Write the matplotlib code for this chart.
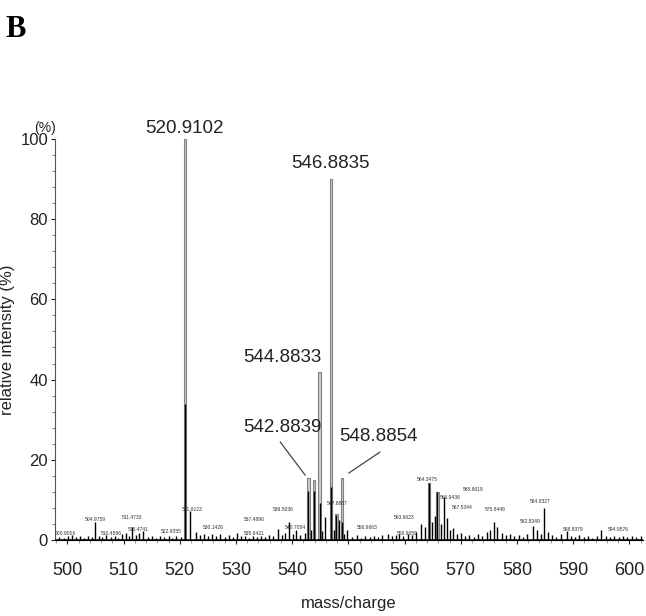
import matplotlib
matplotlib.use('Agg')
import matplotlib.pyplot as plt
from matplotlib.ticker import MultipleLocator

plt.rcParams['font.family'] = ['Liberation Sans', 'DejaVu Sans']

# measured spectrum (black sticks): (m/z, relative intensity %)
black_peaks = [
    (498.6, 0.8), (499.4, 0.6), (500.1, 1.0), (500.9, 1.2), (501.6, 0.7), (502.3, 0.9),
    (503.0, 0.6), (503.7, 1.1), (504.3, 0.8), (504.98, 4.5), (505.6, 1.0), (506.2, 0.7),
    (506.9, 1.3), (507.7, 0.8), (508.4, 1.0), (509.1, 0.6), (509.8, 1.4), (510.46, 1.8),
    (511.0, 0.9), (511.47, 3.2), (512.2, 1.2), (512.8, 1.8), (513.47, 2.2), (514.3, 0.8),
    (515.0, 1.0), (515.8, 0.6), (516.5, 0.9), (517.2, 0.7), (518.0, 1.0), (518.7, 0.6),
    (519.4, 0.9), (520.2, 0.7), (520.91, 34.0), (521.91, 7.2), (522.9, 2.0), (523.6, 1.2),
    (524.3, 1.5), (525.0, 0.9), (525.8, 1.6), (526.5, 1.0), (527.2, 1.4), (528.0, 0.8),
    (528.7, 1.3), (529.4, 0.7), (530.14, 1.8), (530.9, 0.9), (531.6, 1.0), (532.3, 0.6),
    (533.1, 0.9), (533.8, 0.7), (534.5, 1.0), (535.2, 0.8), (535.94, 1.2), (536.6, 0.9),
    (537.49, 2.8), (538.2, 1.2), (538.8, 1.8), (539.5, 4.5), (540.1, 1.5), (540.71, 2.5),
    (541.4, 1.2), (542.2, 1.8), (542.88, 12.3), (543.4, 2.5), (543.88, 12.3), (544.88, 9.2),
    (545.4, 2.2), (545.88, 5.8), (546.88, 13.2), (547.4, 2.5), (547.88, 6.2), (548.3, 5.0),
    (548.88, 4.5), (549.3, 1.5), (549.8, 2.4), (550.7, 0.8), (551.5, 1.2), (552.3, 0.6),
    (553.0, 1.0), (553.8, 0.7), (554.6, 1.1), (555.3, 0.8), (556.0, 1.3), (556.97, 1.6),
    (557.8, 0.9), (558.5, 1.2), (558.97, 1.5), (559.8, 1.0), (560.6, 1.6), (561.3, 1.2),
    (562.1, 2.0), (562.9, 4.0), (563.66, 3.2), (564.35, 14.2), (564.9, 4.5), (565.4, 6.0),
    (565.86, 12.0), (566.4, 4.0), (566.94, 10.6), (567.53, 5.6), (568.1, 2.5), (568.6, 3.0),
    (569.3, 1.5), (570.0, 1.8), (570.8, 1.0), (571.5, 1.3), (572.3, 0.8), (573.1, 1.6),
    (573.8, 1.0), (574.6, 2.0), (575.2, 2.6), (575.84, 4.6), (576.5, 3.2), (577.3, 1.8),
    (578.0, 1.2), (578.7, 1.5), (579.5, 0.9), (580.3, 1.3), (581.0, 0.8), (581.8, 1.5),
    (582.83, 3.6), (583.5, 2.4), (584.2, 1.6), (584.83, 8.0), (585.5, 2.0), (586.3, 1.2),
    (587.0, 0.8), (587.8, 1.6), (588.84, 2.2), (589.6, 1.0), (590.4, 0.8), (591.1, 1.2),
    (591.9, 0.7), (592.6, 1.0), (593.4, 0.6), (594.2, 0.9), (594.96, 2.6), (595.8, 1.0),
    (596.6, 0.7), (597.3, 1.1), (598.1, 0.8), (598.9, 0.9), (599.6, 0.7), (600.4, 1.0),
    (601.2, 0.8), (602.0, 0.9),
]

# simulated isotope pattern (grey bars)
grey_mz = [520.91, 542.88, 543.88, 544.88, 546.88, 547.88, 548.88, 564.35, 565.86]
grey_int = [100, 15.5, 15.0, 42, 90, 6.5, 15.5, 14.2, 12.0]

# big labels: text, x, y
big_labels = [
    ('520.9102', 520.91, 102.5),
    ('546.8835', 546.88, 94.0),
    ('544.8833', 538.3, 45.6),
    ('542.8839', 538.3, 28.0),
    ('548.8854', 555.3, 25.8),
]

# small peak labels: text, x, y
small_labels = [
    ('500.9006', 499.6, 1.5), ('504.9759', 504.9, 5.2), ('510.4596', 507.9, 1.5),
    ('511.4733', 511.5, 5.5), ('513.4741', 512.6, 2.6), ('521.9123', 522.2, 7.7),
    ('522.9055', 518.4, 2.2), ('530.1426', 525.9, 3.2), ('537.4896', 533.2, 5.0),
    ('535.9421', 533.2, 1.5), ('539.5036', 538.4, 7.5), ('540.7084', 540.6, 3.2),
    ('547.8887', 548.0, 9.2), ('556.9663', 553.4, 3.2), ('558.9659', 560.4, 1.7),
    ('563.6623', 559.9, 5.5), ('564.3475', 564.1, 15.0), ('565.8619', 572.2, 12.7),
    ('566.9436', 568.1, 10.5), ('567.5344', 570.3, 8.0), ('575.8448', 576.1, 7.5),
    ('582.8349', 582.3, 4.5), ('584.8327', 584.1, 9.5), ('588.8379', 590.0, 2.7),
    ('594.9576', 598.0, 2.7),
]

fig = plt.figure(figsize=(6.46, 6.16), dpi=100)
ax = fig.add_axes([0.0851, 0.1234, 0.910, 0.651])

ax.bar(grey_mz, grey_int, width=0.42, color='#cccccc', edgecolor='#808080', linewidth=0.8, zorder=2)
bmz = [p[0] for p in black_peaks]
bint = [p[1] for p in black_peaks]
ax.vlines(bmz, 0, bint, color='black', linewidth=1.0, zorder=3)
ax.axhline(0, color='black', linewidth=1.8, zorder=4)

for txt, x, y in big_labels:
    ax.text(x, y, txt, ha='center', va='center', fontsize=13.5, color='#222222')
# leader lines for the two side labels
ax.plot([537.9, 542.3], [24.4, 16.2], color='#444444', lw=0.9)
ax.plot([555.6, 550.1], [21.9, 16.7], color='#444444', lw=0.9)

for txt, x, y in small_labels:
    ax.text(x, y, txt, ha='center', va='center', fontsize=3.6, color='#333333')

ax.set_xlim(497.8, 602.4)
ax.set_ylim(0, 100)
ax.xaxis.set_major_locator(MultipleLocator(10))
ax.xaxis.set_minor_locator(MultipleLocator(2))
ax.yaxis.set_major_locator(MultipleLocator(20))
ax.yaxis.set_minor_locator(MultipleLocator(4))

for s in ['top', 'right']:
    ax.spines[s].set_visible(False)
ax.spines['left'].set_color('#555555')
ax.spines['left'].set_linestyle((0, (2, 1)))
ax.spines['bottom'].set_color('black')

ax.tick_params(axis='x', which='major', labelsize=13, length=3, pad=13, colors='#222222')
ax.tick_params(axis='x', which='minor', length=2, color='#888888')
ax.tick_params(axis='y', which='major', labelsize=12, length=3, pad=2, colors='#222222')
ax.tick_params(axis='y', which='minor', length=2, color='#666666')

ax.set_xlabel('mass/charge', fontsize=12, labelpad=12, color='#222222')
ax.set_ylabel('relative intensity (%)', fontsize=12, labelpad=4, color='#222222')

fig.text(0.07, 0.792, '(%)', fontsize=10, ha='center', va='center', color='#222222')
fig.text(0.008, 0.975, 'B', fontsize=22, fontweight='bold', family='Liberation Serif',
         ha='left', va='top')

fig.savefig('out.png', dpi=100, facecolor='white')
